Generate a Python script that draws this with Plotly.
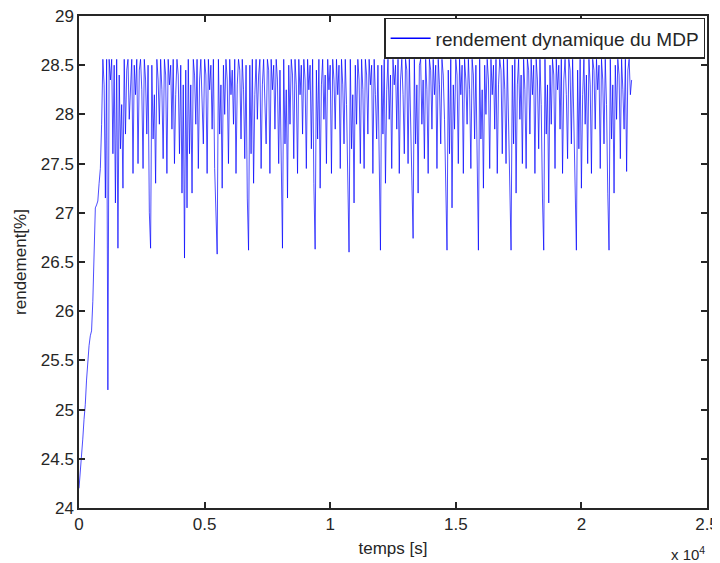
import numpy as np
import plotly.graph_objects as go

# ---- data (sampling step 50 s) ----
t_step = 50.0

startup = [24.20, 24.35, 24.50, 24.70, 24.90, 25.05, 25.30, 25.50, 25.65, 25.75,
           25.80, 26.10, 26.60, 27.05, 27.08, 27.12, 27.30, 27.45, 27.90, 28.56,
           28.30, 27.15, 28.56, 25.20, 28.56, 28.35, 28.56, 27.60, 28.50, 27.10, 28.56]
cycle_01 = [26.64, 28.40, 27.65, 28.10, 27.25, 28.56, 27.80, 28.45, 28.56, 27.95, 28.30, 28.56, 27.40,
            28.50, 28.20, 28.56, 27.50, 28.45, 28.56, 28.25, 27.45, 28.56, 28.35, 27.80, 28.50, 27.00]
cycle_02 = [26.64, 28.50, 27.75, 28.20, 27.30, 28.56, 28.35, 27.90, 28.56, 28.25, 27.55, 28.56, 28.40, 27.40,
            28.56, 28.30, 28.50, 27.85, 28.56, 27.50, 28.20, 28.56, 28.40, 27.60, 28.50, 27.20, 28.30]
cycle_03 = [26.54, 28.45, 27.05, 28.56, 27.60, 28.30, 27.20, 28.56, 28.40, 27.90, 28.56, 27.45, 28.35,
            28.56, 28.10, 27.70, 28.56, 28.40, 27.40, 28.56, 28.25, 28.50, 27.85, 28.56, 27.45, 27.10]
cycle_04 = [26.58, 28.56, 27.80, 28.30, 27.25, 28.50, 28.00, 28.56, 28.35, 27.50, 28.56, 28.20, 28.45,
            27.90, 28.56, 27.40, 28.30, 28.56, 28.45, 27.75, 28.56, 28.25, 27.55, 28.50, 27.15]
cycle_05 = [26.62, 28.50, 27.60, 28.56, 27.30, 28.20, 28.56, 27.95, 28.40, 28.56, 27.45, 28.30, 28.56, 28.10,
            27.70, 28.56, 28.45, 27.40, 28.56, 28.25, 28.50, 27.85, 28.56, 28.35, 27.50, 28.45, 27.20]
cycle_06 = [26.64, 28.56, 27.70, 28.25, 27.15, 28.50, 27.90, 28.56, 28.40, 27.55, 28.56, 28.30, 27.40,
            28.56, 28.20, 28.50, 27.80, 28.56, 28.35, 27.45, 28.56, 28.25, 28.50, 27.65, 28.56, 27.30]
cycle_07 = [26.63, 28.45, 27.75, 28.56, 27.25, 28.30, 28.56, 27.95, 28.40, 27.50, 28.56, 28.25, 28.50, 27.40,
            28.56, 28.35, 27.85, 28.56, 28.20, 28.50, 27.45, 28.56, 28.30, 27.70, 28.56, 28.10, 27.20]
cycle_08 = [26.60, 28.56, 27.65, 28.20, 27.10, 28.50, 27.90, 28.56, 28.35, 27.50, 28.56, 28.25, 27.45,
            28.56, 28.40, 27.80, 28.56, 28.30, 28.50, 27.40, 28.56, 28.20, 27.75, 28.50, 27.25]
cycle_09 = [26.62, 28.50, 27.80, 28.56, 27.30, 28.25, 28.56, 27.95, 28.40, 27.45, 28.56, 28.30, 28.50,
            27.85, 28.56, 27.40, 28.35, 28.56, 28.20, 27.60, 28.56, 28.45, 27.50, 28.56, 27.90, 27.15]
cycle_10 = [26.74, 28.56, 27.70, 28.30, 27.20, 28.50, 28.56, 27.90, 28.35, 27.55, 28.56, 28.25, 27.40, 28.56,
            28.45, 27.85, 28.56, 28.20, 28.50, 27.45, 28.56, 28.30, 27.70, 28.56, 28.40, 27.95, 27.20]
cycle_11 = [26.62, 28.45, 27.60, 28.56, 27.05, 28.30, 27.85, 28.56, 28.40, 27.50, 28.56, 28.20, 28.50,
            27.40, 28.56, 28.35, 27.90, 28.56, 28.25, 27.45, 28.56, 28.40, 27.75, 28.50, 27.30]
cycle_12 = [26.62, 28.56, 27.75, 28.25, 27.25, 28.50, 28.00, 28.56, 28.35, 27.45, 28.56, 28.20, 28.50,
            27.85, 28.56, 27.40, 28.30, 28.56, 28.45, 27.60, 28.56, 28.25, 27.50, 28.56, 27.90, 27.20]
cycle_13 = [26.62, 28.50, 27.70, 28.56, 27.20, 28.30, 28.56, 27.95, 28.40, 27.50, 28.56, 28.25, 27.45,
            28.56, 28.45, 27.80, 28.56, 28.20, 28.50, 27.40, 28.56, 28.35, 27.65, 28.56, 28.10, 27.15]
cycle_14 = [26.62, 28.56, 27.80, 28.30, 27.10, 28.50, 27.90, 28.56, 28.40, 27.45, 28.56, 28.25, 28.50,
            27.85, 28.56, 27.40, 28.35, 28.56, 28.20, 27.55, 28.56, 28.45, 27.70, 28.56, 27.95, 26.99]
cycle_15 = [26.62, 28.45, 27.65, 28.56, 27.25, 28.20, 28.56, 27.90, 28.40, 27.50, 28.56, 28.30, 27.40,
            28.56, 28.45, 27.85, 28.56, 28.25, 28.50, 27.45, 28.56, 28.35, 27.70, 28.56, 28.10, 27.20]
cycle_16 = [26.62, 28.56, 27.75, 28.30, 27.20, 28.50, 27.95, 28.56, 28.40, 27.55, 28.56, 28.25, 27.85,
            28.56, 27.42, 28.45, 28.56, 28.20, 28.35]

x_tickvals = [0, 5000, 10000, 15000, 20000, 25000]
x_ticktext = ["0", "0.5", "1", "1.5", "2", "2.5"]
y_tickvals = [24, 24.5, 25, 25.5, 26, 26.5, 27, 27.5, 28, 28.5, 29]
y_ticktext = ["24", "24.5", "25", "25.5", "26", "26.5", "27", "27.5", "28", "28.5", "29"]

series_name = "rendement dynamique du MDP"

rendement = (startup + cycle_01 + cycle_02 + cycle_03 + cycle_04 + cycle_05 + cycle_06 + cycle_07
             + cycle_08 + cycle_09 + cycle_10 + cycle_11 + cycle_12 + cycle_13 + cycle_14
             + cycle_15 + cycle_16)
temps = np.arange(len(rendement)) * t_step

FONT = "Liberation Sans, Arial, sans-serif"
INK = "#262626"

fig = go.Figure()
fig.add_trace(go.Scatter(x=temps, y=rendement, mode="lines",
                         line=dict(color="rgb(0,0,255)", width=0.7),
                         showlegend=False, name=series_name))
# legend entry (line sample)
fig.add_trace(go.Scatter(x=[None], y=[None], mode="lines",
                         line=dict(color="rgb(0,0,255)", width=1.5),
                         name=series_name, showlegend=True))

axis_common = dict(showgrid=False, zeroline=False, showline=True, mirror="ticks",
                   linecolor=INK, linewidth=1.5, ticks="inside", ticklen=6,
                   tickwidth=1.5, tickcolor=INK, automargin=False,
                   ticklabeloverflow="allow",
                   tickfont=dict(family=FONT, size=17, color=INK))

# the page body adds an 8 px offset, so the figure is 712x555 and margins are shifted
fig.update_layout(
    width=712, height=555,
    margin=dict(l=71, r=13, t=8, b=55, autoexpand=False),
    paper_bgcolor="white", plot_bgcolor="white",
    font=dict(family=FONT, color=INK),
    xaxis=dict(range=[0, 25000], tickvals=x_tickvals, ticktext=x_ticktext,
               title=dict(text="temps [s]", font=dict(family=FONT, size=17, color=INK), standoff=9),
               **axis_common),
    yaxis=dict(range=[24, 29], tickvals=y_tickvals, ticktext=y_ticktext,
               title=dict(text="rendement[%]", font=dict(family=FONT, size=17, color=INK), standoff=10),
               **axis_common),
    legend=dict(x=0.997, y=0.996, xanchor="right", yanchor="top",
                bgcolor="white", bordercolor=INK, borderwidth=1.5,
                font=dict(family=FONT, size=19, color=INK),
                tracegroupgap=0, itemwidth=40),
    showlegend=True,
)
fig.add_annotation(xref="paper", yref="paper", x=1.0, y=-0.092, xanchor="right", yanchor="middle",
                   text="x 10<sup>4</sup>", showarrow=False,
                   font=dict(family=FONT, size=15, color=INK))

fig.write_html("out.html")
